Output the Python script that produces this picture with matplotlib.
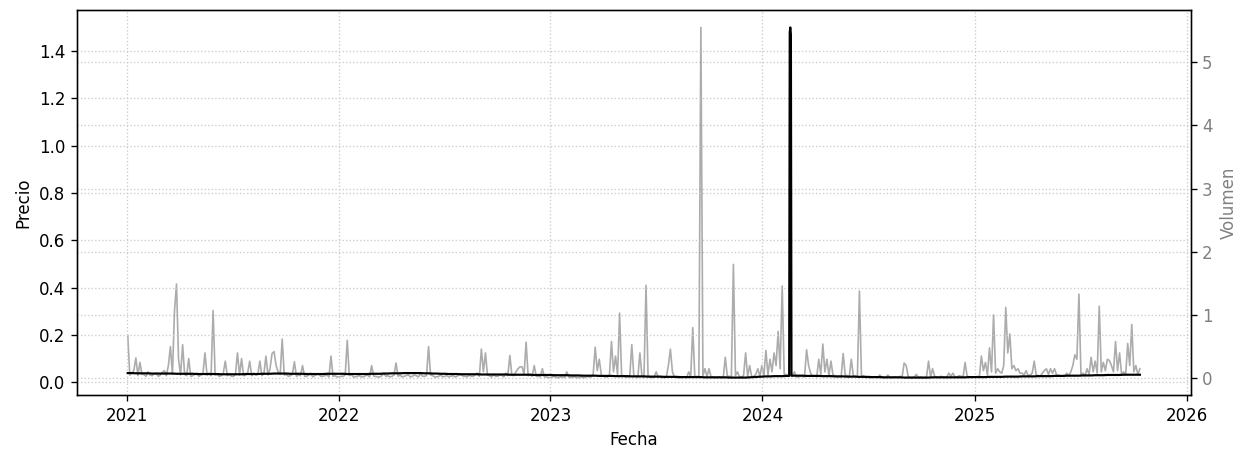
import matplotlib
matplotlib.use("Agg")
import matplotlib.pyplot as plt
import pandas as pd

# weekly closing price, starting on the first Sunday of 2021
start_date = "2021-01-03"

precio = [
    0.039, 0.039, 0.038, 0.038, 0.038, 0.038, 0.037, 0.037, 0.037, 0.037,
    0.037, 0.037, 0.036, 0.036, 0.036, 0.036, 0.036, 0.035, 0.035, 0.035,
    0.035, 0.035, 0.035, 0.034, 0.034, 0.034, 0.034, 0.034, 0.034, 0.035,
    0.035, 0.035, 0.035, 0.036, 0.036, 0.036, 0.037, 0.037, 0.037, 0.037,
    0.036, 0.036, 0.036, 0.036, 0.035, 0.035, 0.035, 0.035, 0.035, 0.036,
    0.036, 0.036, 0.036, 0.036, 0.035, 0.035, 0.035, 0.035, 0.035, 0.035,
    0.036, 0.036, 0.036, 0.037, 0.037, 0.038, 0.038, 0.038, 0.039, 0.039,
    0.039, 0.039, 0.039, 0.038, 0.038, 0.037, 0.037, 0.036, 0.036, 0.035,
    0.035, 0.035, 0.034, 0.034, 0.034, 0.034, 0.034, 0.033, 0.033, 0.033,
    0.033, 0.033, 0.033, 0.033, 0.032, 0.032, 0.032, 0.032, 0.032, 0.032,
    0.031, 0.031, 0.031, 0.031, 0.031, 0.030, 0.030, 0.030, 0.030, 0.029,
    0.029, 0.029, 0.028, 0.028, 0.028, 0.028, 0.027, 0.027, 0.027, 0.027,
    0.026, 0.026, 0.026, 0.026, 0.025, 0.025, 0.025, 0.025, 0.024, 0.024,
    0.024, 0.024, 0.023, 0.023, 0.023, 0.023, 0.022, 0.022, 0.022, 0.022,
    0.022, 0.022, 0.021, 0.021, 0.021, 0.021, 0.021, 0.021, 0.020, 0.020,
    0.020, 0.020, 0.020, 0.021, 0.022, 0.023, 0.024, 0.025, 0.025, 0.026,
    0.026, 0.026, 0.027, 1.500, 0.028, 0.028, 0.028, 0.027, 0.027, 0.027,
    0.027, 0.026, 0.026, 0.026, 0.025, 0.025, 0.025, 0.024, 0.024, 0.024,
    0.023, 0.023, 0.023, 0.022, 0.022, 0.022, 0.021, 0.021, 0.021, 0.021,
    0.021, 0.020, 0.020, 0.020, 0.020, 0.020, 0.020, 0.020, 0.021, 0.021,
    0.021, 0.021, 0.021, 0.021, 0.021, 0.021, 0.021, 0.022, 0.022, 0.022,
    0.022, 0.022, 0.023, 0.023, 0.023, 0.023, 0.024, 0.024, 0.024, 0.024,
    0.025, 0.025, 0.025, 0.025, 0.026, 0.026, 0.026, 0.026, 0.027, 0.027,
    0.027, 0.028, 0.028, 0.028, 0.028, 0.029, 0.029, 0.029, 0.030, 0.030,
    0.030, 0.031, 0.031, 0.031, 0.031, 0.032, 0.032, 0.032, 0.032, 0.032,
]

# daily closes on either side of the February 2024 spike
fechas_pico = ["2024-02-16", "2024-02-17", "2024-02-19", "2024-02-20"]
precio_pico = [0.027, 1.480, 1.470, 0.028]

# volume, two readings per week (every 84 hours)
volumen = [
    0.68, 0.05, 0.08, 0.12, 0.32, 0.04, 0.25, 0.06, 0.06, 0.03, 0.10, 0.05, 0.04, 0.07, 0.08, 0.03, 0.05, 0.09, 0.12, 0.04,
    0.20, 0.50, 0.06, 1.06, 1.49, 0.30, 0.05, 0.53, 0.06, 0.04, 0.31, 0.03, 0.04, 0.06, 0.08, 0.03, 0.05, 0.07, 0.40, 0.05,
    0.08, 0.04, 1.07, 0.05, 0.06, 0.03, 0.04, 0.08, 0.27, 0.04, 0.07, 0.03, 0.03, 0.06, 0.40, 0.05, 0.31, 0.04, 0.05, 0.08,
    0.27, 0.04, 0.08, 0.05, 0.06, 0.27, 0.04, 0.07, 0.35, 0.05, 0.15, 0.39, 0.42, 0.20, 0.10, 0.06, 0.62, 0.05, 0.06, 0.03,
    0.04, 0.06, 0.26, 0.03, 0.05, 0.04, 0.20, 0.03, 0.03, 0.05, 0.08, 0.02, 0.04, 0.06, 0.06, 0.03, 0.03, 0.04, 0.05, 0.02,
    0.35, 0.03, 0.04, 0.02, 0.02, 0.03, 0.03, 0.05, 0.60, 0.04, 0.06, 0.02, 0.02, 0.03, 0.04, 0.02, 0.02, 0.04, 0.05, 0.02,
    0.20, 0.03, 0.03, 0.02, 0.02, 0.04, 0.08, 0.03, 0.04, 0.02, 0.03, 0.05, 0.24, 0.03, 0.05, 0.02, 0.03, 0.04, 0.06, 0.02,
    0.03, 0.05, 0.04, 0.02, 0.07, 0.03, 0.03, 0.04, 0.50, 0.05, 0.04, 0.02, 0.02, 0.03, 0.05, 0.02, 0.03, 0.04, 0.02, 0.03,
    0.04, 0.02, 0.03, 0.05, 0.06, 0.03, 0.03, 0.02, 0.05, 0.03, 0.03, 0.06, 0.08, 0.03, 0.46, 0.10, 0.40, 0.05, 0.04, 0.02,
    0.06, 0.03, 0.03, 0.05, 0.05, 0.02, 0.08, 0.04, 0.36, 0.05, 0.04, 0.10, 0.15, 0.18, 0.18, 0.06, 0.57, 0.04, 0.06, 0.03,
    0.20, 0.03, 0.03, 0.02, 0.15, 0.02, 0.02, 0.01, 0.01, 0.02, 0.03, 0.01, 0.01, 0.02, 0.02, 0.01, 0.10, 0.02, 0.01, 0.02,
    0.02, 0.01, 0.01, 0.02, 0.01, 0.01, 0.03, 0.02, 0.02, 0.06, 0.49, 0.12, 0.30, 0.05, 0.03, 0.02, 0.02, 0.04, 0.58, 0.10,
    0.35, 0.05, 1.03, 0.04, 0.04, 0.02, 0.02, 0.03, 0.53, 0.04, 0.03, 0.02, 0.40, 0.03, 0.02, 1.47, 0.04, 0.02, 0.01, 0.02,
    0.10, 0.02, 0.02, 0.01, 0.01, 0.02, 0.20, 0.46, 0.10, 0.02, 0.01, 0.01, 0.01, 0.02, 0.02, 0.01, 0.10, 0.02, 0.80, 0.03,
    0.03, 0.02, 5.55, 0.04, 0.15, 0.03, 0.15, 0.02, 0.02, 0.01, 0.01, 0.02, 0.01, 0.01, 0.33, 0.03, 0.03, 0.02, 1.80, 0.04,
    0.10, 0.02, 0.02, 0.04, 0.40, 0.03, 0.20, 0.02, 0.03, 0.06, 0.15, 0.03, 0.20, 0.04, 0.44, 0.05, 0.30, 0.10, 0.40, 0.20,
    0.74, 0.15, 1.46, 0.06, 0.06, 0.03, 0.04, 0.03, 0.10, 0.02, 0.02, 0.03, 0.03, 0.02, 0.45, 0.20, 0.08, 0.03, 0.04, 0.02,
    0.30, 0.06, 0.54, 0.10, 0.30, 0.04, 0.27, 0.05, 0.04, 0.02, 0.03, 0.02, 0.39, 0.05, 0.04, 0.02, 0.30, 0.04, 0.03, 0.02,
    1.38, 0.03, 0.04, 0.01, 0.01, 0.01, 0.01, 0.02, 0.02, 0.01, 0.05, 0.01, 0.01, 0.01, 0.05, 0.01, 0.01, 0.02, 0.02, 0.01,
    0.03, 0.02, 0.24, 0.20, 0.03, 0.01, 0.01, 0.02, 0.06, 0.01, 0.02, 0.01, 0.01, 0.02, 0.27, 0.02, 0.15, 0.03, 0.02, 0.01,
    0.03, 0.02, 0.01, 0.02, 0.08, 0.03, 0.08, 0.02, 0.02, 0.04, 0.03, 0.02, 0.25, 0.03, 0.02, 0.01, 0.02, 0.01, 0.03, 0.02,
    0.35, 0.12, 0.25, 0.05, 0.48, 0.10, 1.00, 0.08, 0.15, 0.10, 0.08, 0.20, 1.12, 0.40, 0.70, 0.15, 0.20, 0.12, 0.15, 0.08,
    0.08, 0.05, 0.12, 0.04, 0.05, 0.08, 0.27, 0.05, 0.04, 0.03, 0.08, 0.12, 0.15, 0.06, 0.15, 0.08, 0.15, 0.05, 0.05, 0.03,
    0.04, 0.03, 0.08, 0.04, 0.10, 0.20, 0.37, 0.30, 1.33, 0.06, 0.08, 0.04, 0.15, 0.06, 0.33, 0.10, 0.27, 0.08, 1.14, 0.10,
    0.25, 0.12, 0.30, 0.28, 0.20, 0.10, 0.58, 0.12, 0.40, 0.06, 0.10, 0.05, 0.55, 0.20, 0.85, 0.10, 0.20, 0.06, 0.15,
]


def main():
    serie_precio = pd.Series(precio, index=pd.date_range(start_date, periods=len(precio), freq="7D"))
    pico = pd.Series(precio_pico, index=pd.to_datetime(fechas_pico))
    serie_precio = pd.concat([serie_precio, pico]).sort_index()

    fechas_vol = pd.date_range(start_date, periods=len(volumen), freq="84h")

    fig, ax1 = plt.subplots(figsize=(1244 / 120, 451 / 120), dpi=120)
    fig.subplots_adjust(left=0.062, right=0.957, top=0.978, bottom=0.124)

    ax1.plot(serie_precio.index, serie_precio.values, color="black", linewidth=1.3, zorder=3)
    ax1.set_xlabel("Fecha")
    ax1.set_ylabel("Precio")
    ax1.grid(True, linestyle=":", color="#cccccc", linewidth=0.8)

    ax2 = ax1.twinx()
    ax2.plot(fechas_vol, volumen, color="gray", alpha=0.65, linewidth=1.0)
    ax2.set_ylabel("Volumen", color="gray")
    ax2.tick_params(axis="y", labelcolor="gray")
    ax2.grid(True, axis="y", linestyle=":", color="#cccccc", linewidth=0.8)

    # keep the price line above the volume
    ax1.set_zorder(ax2.get_zorder() + 1)
    ax1.patch.set_visible(False)

    fig.savefig("out.png", dpi=120)


if __name__ == "__main__":
    main()
